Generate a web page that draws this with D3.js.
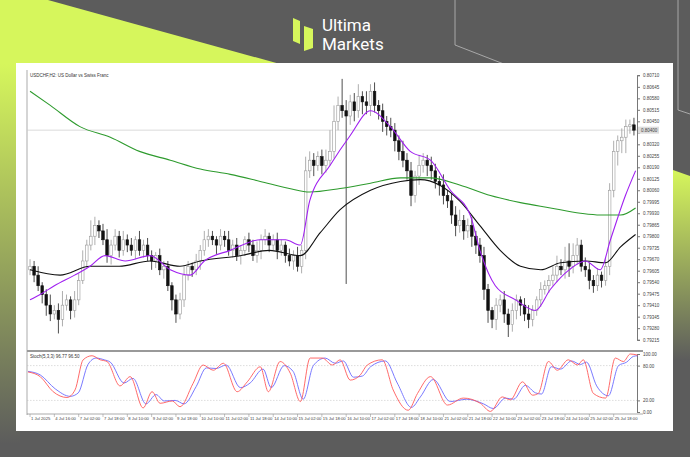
<!DOCTYPE html>
<html>
<head>
<meta charset="utf-8">
<script src="https://cdn.jsdelivr.net/npm/d3@7"></script>
<style>
  body { margin: 0; background: #5c5c5c; }
  svg { display: block; font-family: "Liberation Sans", Arial, sans-serif; }
</style>
</head>
<body>
<div id="chart"></div>
<script>
// H2 closes, one per bar (open = previous close)
const closes = [
  0.7963,0.7958,0.7952,0.7947,
  0.7941,0.7936,0.7938,0.7933,0.7941,0.7944,0.7938,0.7944,
  0.7955,0.7966,0.7975,0.7980,0.7986,0.7983,
  0.7978,0.7969,0.7975,0.7980,0.7972,0.7978,
  0.7975,0.7972,0.7978,0.7972,0.7975,0.7969,
  0.7966,0.7969,0.7961,0.7963,0.7952,0.7944,
  0.7936,0.7944,0.7958,
  0.7963,0.7961,0.7966,0.7972,0.7978,
  0.7980,0.7978,0.7975,0.7980,0.7978,0.7972,
  0.7975,0.7969,0.7972,0.7978,0.7975,0.7969,0.7972,
  0.7978,0.7980,0.7975,0.7978,0.7972,0.7975,0.7969,0.7966,
  0.7969,0.7963,0.7972,
  0.8017,0.8023,0.8020,0.8025,0.8020,0.8023,
  0.8028,0.8045,0.8054,0.8051,
  0.8048,0.8056,0.8051,0.8059,0.8056,0.8054,0.8062,0.8054,0.8051,
  0.8045,0.8042,0.8040,0.8034,0.8028,0.8023,0.8017,
  0.8003,0.8014,0.8020,0.8023,0.8020,
  0.8017,0.8011,0.8009,0.8003,0.8000,
  0.7992,0.7986,0.7989,0.7983,0.7986,0.7980,
  0.7975,0.7969,0.7950,0.7938,
  0.7933,0.7941,0.7944,0.7936,0.7930,0.7938,0.7944,0.7941,
  0.7936,0.7933,0.7938,0.7944,0.7950,0.7952,
  0.7955,0.7958,0.7963,0.7961,0.7966,0.7963,
  0.7969,0.7975,0.7963,0.7961,
  0.7955,0.7952,0.7958,0.7955,0.7963,
  0.8006,0.8028,0.8034,0.8036,0.8042,0.8043,0.8040
];
const firstOpen = 0.7961;
// wick lengths above/below body, in 0.0001
const wickUp = [
  4,3,5,2,3,6,3,4,8,3,2,5,
  4,6,3,9,5,3,4,6,3,4,3,5,
  3,4,2,5,3,4,3,2,4,3,3,2,
  3,4,5,3,2,4,3,5,4,3,2,4,3,5,
  3,4,3,2,4,3,5,3,4,2,3,4,3,2,4,3,5,3,
  8,5,4,3,4,6,12,9,5,15,
  6,4,5,7,3,6,4,5,3,4,3,5,4,3,6,4,
  5,3,6,4,3,5,4,3,6,3,4,5,6,3,4,5,
  3,4,5,3,2,4,3,5,3,4,3,2,4,5,3,2,4,3,
  3,5,6,4,8,10,7,4,3,5,4,3,4,2,5,
  4,6,3,5,4,3,4
];
const wickDn = [
  3,4,3,5,6,4,3,8,4,3,5,4,
  3,2,4,3,5,4,3,4,5,3,4,3,
  4,3,5,3,4,3,5,4,3,5,3,6,
  5,3,4,3,4,3,5,3,4,3,5,3,4,3,
  4,3,5,3,4,3,4,5,3,4,3,5,3,4,3,5,3,4,
  5,4,6,3,5,4,3,4,5,4,
  95,5,6,4,7,5,6,4,5,6,5,4,6,5,4,5,
  6,4,5,4,6,5,4,6,5,4,5,6,4,5,4,6,
  5,4,6,7,5,6,4,5,7,4,5,6,4,5,4,3,4,3,
  4,3,4,3,5,6,4,5,3,4,5,4,3,4,3,
  5,4,8,7,9,4,3
];
// moving averages [bar, price]
const maFast = [[0,.7944],[2.5,.7947],[6,.7952],[11,.7958],[14.8,.7963],[18.5,.7969],[23.5,.7966],[29.6,.7969],[34.6,.7961],[39.5,.7958],[43,.7966],[49.4,.7972],[56.8,.7978],[63,.7978],[66.7,.7975],[69,.8000],[74,.8020],[79,.8037],[84,.8051],[88.9,.8042],[93.8,.8028],[98.8,.8023],[103.7,.8006],[108.6,.7992],[111,.7972],[114.8,.7952],[119.8,.7944],[124.7,.7938],[128.4,.7950],[133,.7961],[137,.7966],[140.7,.7961],[143.2,.7978],[146.9,.8003],[149.4,.8017]];
const maMid = [[0,.7961],[7.4,.7958],[14.8,.7963],[22,.7963],[29.6,.7966],[37,.7963],[42,.7966],[51.9,.7969],[59,.7972],[66.7,.7969],[71.6,.7982],[76.5,.7995],[84,.8006],[91.4,.8011],[96.3,.8012],[101,.8009],[106,.8000],[111,.7986],[116,.7972],[121,.7963],[126,.7961],[130.9,.7965],[137,.7966],[142,.7965],[145.7,.7974],[149.4,.7981]];
const maSlow = [[0,.8062],[5,.8054],[12.3,.8042],[19.8,.8036],[27,.8028],[34.6,.8023],[42,.8018],[49.4,.8015],[56.8,.8011],[64,.8007],[69,.8005],[76.5,.8007],[84,.8010],[91.4,.8013],[98.8,.8013],[106,.8009],[113.6,.8003],[121,.7999],[128.4,.7996],[135.8,.7993],[140.7,.7992],[145.7,.7992],[149.4,.7996]];
// stochastic (5,3,3)
const stochMain = [[-0.5,69],[2.5,61],[5.7,35],[9.1,25],[11.1,38],[13.1,90],[15.3,97],[17.3,90],[19,87],[22.2,45],[24.7,61],[27.9,7],[30.1,35],[32.1,15],[35.1,19],[37,9],[40.2,49],[42.7,81],[45.2,72],[47.7,84],[51.1,35],[53.6,52],[56.8,78],[58.8,35],[61.7,87],[64.2,67],[66.7,18],[69.1,93],[72.1,93],[74.6,81],[76.5,90],[79,55],[81.5,64],[83.2,81],[86.9,90],[89.6,38],[93.3,3],[95.6,32],[98.8,61],[103,12],[106.9,24],[111.1,15],[113.6,1],[116.5,26],[118.5,21],[121.5,52],[124,29],[125.4,32],[127.9,87],[130.1,72],[132.8,90],[135.1,81],[136.5,90],[139,32],[142,24],[144.4,93],[146.4,87],[148.1,100],[149.9,98]];
const stochSignal = [[-0.5,70],[2.5,64],[6.2,40],[9.9,27],[11.9,33],[14.3,82],[16.3,93],[18.3,90],[19.8,86],[23.2,50],[25.4,58],[28.6,14],[31.1,30],[33.1,19],[35.8,20],[38,14],[41,44],[43.5,76],[45.9,75],[48.4,81],[51.9,42],[54.3,50],[57.5,74],[59.5,42],[62.7,80],[64.9,70],[67.4,22],[69.9,80],[72.8,93],[75.3,84],[77.3,88],[79.8,60],[82,62],[84,78],[87.7,88],[90.6,50],[94.1,8],[96.3,26],[99.5,56],[103.7,18],[107.7,22],[111.9,14],[114.3,6],[117.3,24],[119.3,22],[122.2,46],[124.7,33],[126.2,31],[128.6,78],[130.9,74],[133.6,88],[135.8,82],[137.3,86],[139.8,45],[142.7,28],[145.2,80],[147.2,86],[148.9,96],[149.9,97]];
const priceTicks = [0.79215,0.79280,0.79345,0.79410,0.79475,0.79540,0.79605,0.79670,0.79735,0.79800,0.79865,0.79930,0.79995,0.80060,0.80125,0.80190,0.80255,0.80320,0.80385,0.80450,0.80515,0.80580,0.80645,0.80710];
const stochTicks = [100, 80, 20, 0];
const timeLabels = ["1 Jul 2025","4 Jul 16:00","7 Jul 02:00","7 Jul 18:00","8 Jul 10:00","9 Jul 02:00","9 Jul 18:00","10 Jul 10:00","11 Jul 02:00","11 Jul 18:00","14 Jul 10:00","15 Jul 02:00","15 Jul 18:00","16 Jul 10:00","17 Jul 02:00","17 Jul 18:00","18 Jul 10:00","21 Jul 02:00","21 Jul 18:00","22 Jul 10:00","23 Jul 02:00","23 Jul 18:00","24 Jul 10:00","25 Jul 02:00","25 Jul 18:00"];

const W = 690, H = 457;
const svg = d3.select("#chart").append("svg").attr("width", W).attr("height", H);

// background decoration
const defs = svg.append("defs");
const gL = defs.append("linearGradient").attr("id", "limeL").attr("x1", 0).attr("y1", 0).attr("x2", 0).attr("y2", 1);
gL.append("stop").attr("offset", "0%").attr("stop-color", "#d6f65c");
gL.append("stop").attr("offset", "100%").attr("stop-color", "#5c5c5c");
const gR = defs.append("linearGradient").attr("id", "limeR").attr("x1", 0).attr("y1", 0).attr("x2", 0).attr("y2", 1);
gR.append("stop").attr("offset", "0%").attr("stop-color", "#d6f65c");
gR.append("stop").attr("offset", "100%").attr("stop-color", "#5c5c5c");

svg.append("rect").attr("width", W).attr("height", H).attr("fill", "#5c5c5c");
svg.append("polygon").attr("points", "0,0 48,0 280,64 0,64").attr("fill", "#d6f65c");
svg.append("rect").attr("x", 0).attr("y", 64).attr("width", 20).attr("height", 380).attr("fill", "url(#limeL)");
svg.append("polygon").attr("points", "673,170 690,176 690,360 673,360").attr("fill", "url(#limeR)");
svg.append("path").attr("d", "M455,0 V45 L545,80").attr("fill", "none").attr("stroke", "#bbb").attr("stroke-width", 0.8);
svg.append("path").attr("d", "M678,0 V110 L690,114").attr("fill", "none").attr("stroke", "#bbb").attr("stroke-width", 0.8);

// logo
const logo = svg.append("g");
logo.append("polygon").attr("points", "293,18 300,21 300,44 293,41").attr("fill", "#d6f65c");
logo.append("polygon").attr("points", "304,26 313,29 313,48 304,51").attr("fill", "#d6f65c");
logo.append("text").attr("x", 322).attr("y", 31).attr("fill", "#fff").attr("font-size", 17)
  .attr("font-family", "Roboto, sans-serif").text("Ultima");
logo.append("text").attr("x", 322).attr("y", 50).attr("fill", "#fff").attr("font-size", 17)
  .attr("font-family", "Roboto, sans-serif").text("Markets");

// panel
svg.append("rect").attr("x", 16).attr("y", 63).attr("width", 657).attr("height", 368).attr("fill", "#fff");

const x = d3.scaleLinear().domain([-0.75, 150]).range([27, 638]);
const y = d3.scaleLinear().domain([0.79213, 0.80712]).range([340, 75]);
const ys = d3.scaleLinear().domain([0, 100]).range([412, 354]);

const left = 27, right = 637;
svg.append("line").attr("x1", left).attr("x2", left).attr("y1", 70).attr("y2", 415).attr("stroke", "#888").attr("stroke-width", 0.7);
svg.append("line").attr("x1", left).attr("x2", 643).attr("y1", 351).attr("y2", 351).attr("stroke", "#999").attr("stroke-width", 2);
svg.append("line").attr("x1", left).attr("x2", 643).attr("y1", 414).attr("y2", 414).attr("stroke", "#888").attr("stroke-width", 0.7);

const last = closes[closes.length - 1];

// price axis (tick label hidden where the current-price tag sits)
const yAxis = svg.append("g").attr("transform", `translate(${right},0)`)
  .call(d3.axisRight(y).tickValues(priceTicks).tickSize(3).tickFormat(d3.format(".5f")));
yAxis.select(".domain").attr("stroke", "#777");
yAxis.selectAll("line").attr("stroke", "#777");
yAxis.selectAll("text").attr("font-size", 4.5).attr("fill", "#444")
  .style("display", d => Math.abs(y(d) - y(last)) < 6 ? "none" : null);

svg.append("text").attr("x", 30).attr("y", 77).attr("font-size", 4.5).attr("fill", "#333")
  .text("USDCHF,H2:  US Dollar vs Swiss Franc");

// candles
const bars = closes.map((c, i) => {
  const o = i === 0 ? firstOpen : closes[i - 1];
  return { i, o, c, h: Math.max(o, c) + wickUp[i] / 10000, l: Math.min(o, c) - wickDn[i] / 10000 };
});
svg.append("line").attr("x1", left).attr("x2", right).attr("y1", y(last)).attr("y2", y(last))
  .attr("stroke", "#ccc").attr("stroke-width", 0.7);
svg.append("rect").attr("x", right + 1).attr("y", y(last) - 3.5).attr("width", 21).attr("height", 7).attr("fill", "#ddd");
svg.append("text").attr("x", right + 4).attr("y", y(last) + 1.6).attr("font-size", 4.5).attr("fill", "#444").text(last.toFixed(5));

const cg = svg.append("g");
cg.selectAll("line.w").data(bars).join("line")
  .attr("x1", d => x(d.i)).attr("x2", d => x(d.i))
  .attr("y1", d => y(d.h)).attr("y2", d => y(d.l))
  .attr("stroke", d => d.c >= d.o ? "#999" : "#222").attr("stroke-width", 0.8);
cg.selectAll("rect").data(bars).join("rect")
  .attr("x", d => x(d.i) - 1.3).attr("width", 2.6)
  .attr("y", d => y(Math.max(d.o, d.c)))
  .attr("height", d => Math.max(0.8, Math.abs(y(d.o) - y(d.c))))
  .attr("fill", d => d.c >= d.o ? "#fff" : "#111")
  .attr("stroke", d => d.c >= d.o ? "#999" : "#111").attr("stroke-width", 0.6);

const ma = d3.line().x(d => x(d[0])).y(d => y(d[1])).curve(d3.curveMonotoneX);
svg.append("path").attr("d", ma(maSlow)).attr("fill", "none").attr("stroke", "#2e9b2e").attr("stroke-width", 1.1);
svg.append("path").attr("d", ma(maMid)).attr("fill", "none").attr("stroke", "#111").attr("stroke-width", 1.1);
svg.append("path").attr("d", ma(maFast)).attr("fill", "none").attr("stroke", "#a020f0").attr("stroke-width", 1.1);

// stochastic panel
[80, 20].forEach(v => svg.append("line").attr("x1", left).attr("x2", right).attr("y1", ys(v)).attr("y2", ys(v))
  .attr("stroke", "#bbb").attr("stroke-width", 0.5).attr("stroke-dasharray", "1.5,1.5"));
const sAxis = svg.append("g").attr("transform", `translate(${right},0)`)
  .call(d3.axisRight(ys).tickValues(stochTicks).tickSize(3).tickFormat(d3.format(".2f")));
sAxis.select(".domain").attr("stroke", "#777");
sAxis.selectAll("line").attr("stroke", "#777");
sAxis.selectAll("text").attr("font-size", 4.5).attr("fill", "#444");
svg.append("text").attr("x", 30).attr("y", 358).attr("font-size", 4.5).attr("fill", "#333")
  .text("Stoch(5,3,3) 96.77 96.50");

const sl = d3.line().x(d => x(d[0])).y(d => ys(d[1])).curve(d3.curveMonotoneX);
svg.append("path").attr("d", sl(stochSignal)).attr("fill", "none").attr("stroke", "#6b6bff").attr("stroke-width", 0.9);
svg.append("path").attr("d", sl(stochMain)).attr("fill", "none").attr("stroke", "#ff5a5a").attr("stroke-width", 0.9);

// time labels, one every 6 bars
const tg = svg.append("g");
tg.selectAll("text").data(timeLabels).join("text")
  .attr("x", (d, i) => x(i * 6) + 1).attr("y", 420).attr("font-size", 4.2).attr("fill", "#444").text(d => d);
tg.selectAll("line").data(timeLabels).join("line")
  .attr("x1", (d, i) => x(i * 6)).attr("x2", (d, i) => x(i * 6)).attr("y1", 414).attr("y2", 417)
  .attr("stroke", "#888").attr("stroke-width", 0.5);
</script>
</body>
</html>
